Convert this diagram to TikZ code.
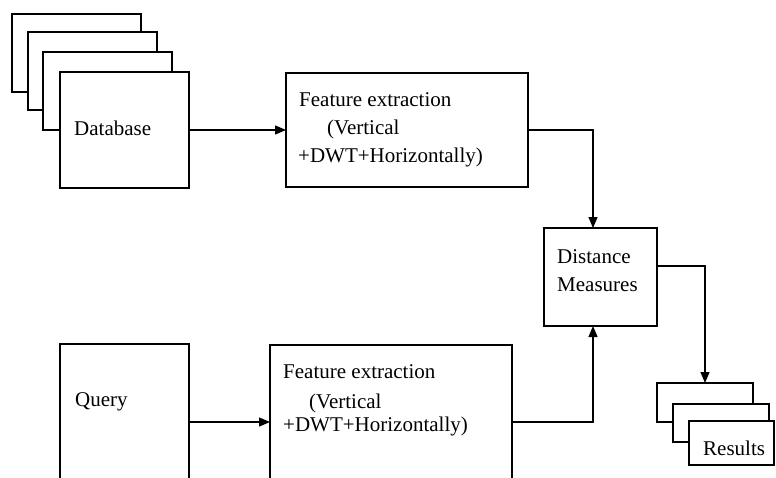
\documentclass[tikz,border=0pt]{standalone}
\usepackage{fontspec}
\setmainfont{Liberation Serif}
\usetikzlibrary{arrows.meta}
\tikzset{
  box/.style={draw=black, line width=1.3pt, fill=white, inner sep=0pt, outer sep=0pt},
  txt/.style={anchor=base west, inner sep=0pt, font=\fontsize{21}{25}\selectfont},
  arr/.style={draw=black, line width=1.3pt, -{Triangle[length=11pt,width=9pt]}},
  ln/.style={draw=black, line width=1.3pt}
}
\newcommand{\boxat}[5]{% name, x1, y1, x2, y2
  \node[box, minimum width={#4-#2}, minimum height={#5-#3}] (#1) at ({(#2+#4)/2},{(#3+#5)/2}) {};}
\begin{document}
\begin{tikzpicture}[x=1pt,y=-1pt]
\useasboundingbox (0,0) rectangle (776,477);
\clip (0,0) rectangle (776,477);
% database stack
\boxat{db4}{12}{14}{141}{92}
\boxat{db3}{28}{32}{157}{110}
\boxat{db2}{43}{52}{172}{130}
\boxat{db}{60}{72}{189}{188}
\node[txt] (dbt) at (74,135) {Database};
% feature extraction 1
\boxat{fe1}{286}{73}{528}{187}
\node[txt] (fe1a) at (299,106) {Feature extraction};
\node[txt] (fe1b) at (327,134) {(Vertical};
\node[txt] (fe1c) at (298,162) {+DWT+Horizontally)};
% distance
\boxat{dm}{544}{228}{657}{326}
\node[txt] (dma) at (557,263) {Distance};
\node[txt] (dmb) at (557,291) {Measures};
% query
\boxat{q}{60}{344}{189}{500}
\node[txt] (qt) at (75,406) {Query};
% feature extraction 2
\boxat{fe2}{270}{345}{512}{500}
\node[txt] (fe2a) at (283,378) {Feature extraction};
\node[txt] (fe2b) at (309,408) {(Vertical};
\node[txt] (fe2c) at (283,431) {+DWT+Horizontally)};
% results stack
\boxat{res1}{657}{383}{753}{422}
\boxat{res2}{673}{404}{769}{442}
\boxat{res}{689}{421}{774}{465}
\node[txt] (rt) at (703,455) {Results};
% coordinates
\coordinate (dmin) at (593,228);
\coordinate (dmbot) at (593,326);
\coordinate (dmout) at (657,266);
\coordinate (qout) at (189,422);
\coordinate (fe2out) at (512,422);
% connectors
\draw[arr] (db.east) -- (fe1.west |- db.east);
\draw[arr] (fe1.east) -| (dmin);
\draw[arr] (qout) -- (fe2.west |- qout);
\draw[arr] (fe2out) -| (dmbot);
\draw[arr] (dmout) -| (res1.north);
\end{tikzpicture}
\end{document}
